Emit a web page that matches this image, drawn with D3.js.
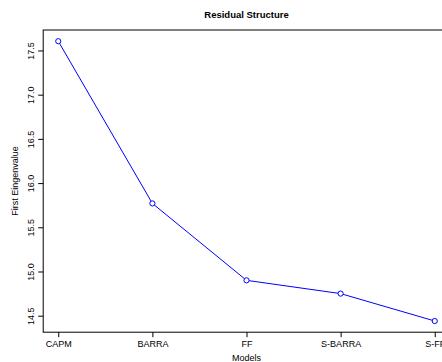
<!DOCTYPE html>
<html>
<head>
<meta charset="utf-8">
<script src="https://cdn.jsdelivr.net/npm/d3@7"></script>
<style>
  html, body { margin: 0; padding: 0; background: #fff; }
  svg { display: block; font-family: "Liberation Sans", Arial, Helvetica, sans-serif; }
</style>
</head>
<body>
<svg id="chart" width="442" height="362"></svg>
<script>
const models = ["CAPM", "BARRA", "FF", "S-BARRA", "S-FF"];
const eigenvalues = [17.605, 15.77, 14.90, 14.75, 14.44];
const yTicks = [14.5, 15.0, 15.5, 16.0, 16.5, 17.0, 17.5];
const chartTitle = "Residual Structure";
const xTitle = "Models";
const yTitle = "First Eingenvalue";

(function () {
const svg = d3.select("#chart");
const pLeft = 43.2, pRight = 449.8, pTop = 30, pBottom = 332.2;

const idx = models.map((d, i) => i + 1);
const xPad = 0.04 * (5 - 1);
const x = d3.scaleLinear().domain([1 - xPad, 5 + xPad]).range([pLeft, pRight]);
const yMin = d3.min(eigenvalues), yMax = d3.max(eigenvalues);
const yPad = 0.04 * (yMax - yMin);
const y = d3.scaleLinear().domain([yMin - yPad, yMax + yPad]).range([pBottom, pTop]);

// box
svg.append("rect")
  .attr("x", pLeft).attr("y", pTop)
  .attr("width", pRight - pLeft).attr("height", pBottom - pTop)
  .attr("fill", "none").attr("stroke", "#000").attr("stroke-width", 1);

// x axis
const xAxis = d3.axisBottom(x).tickValues(idx).tickFormat((d) => models[d - 1]).tickSize(5).tickPadding(3);
const gx = svg.append("g").attr("transform", `translate(0,${pBottom})`).call(xAxis);
gx.select(".domain").remove();
gx.selectAll("text").attr("font-size", 9).attr("font-family", "Liberation Sans, Arial, sans-serif").attr("fill", "#000");

// y axis
const yAxis = d3.axisLeft(y).tickValues(yTicks).tickFormat(d3.format(".1f")).tickSize(5);
const gy = svg.append("g").attr("transform", `translate(${pLeft},0)`).call(yAxis);
gy.select(".domain").remove();
gy.selectAll("text")
  .attr("font-size", 9).attr("font-family", "Liberation Sans, Arial, sans-serif").attr("fill", "#000")
  .attr("x", null).attr("dy", null)
  .attr("text-anchor", "middle")
  .attr("transform", "translate(-9,0) rotate(-90)");

// line
const pts = eigenvalues.map((v, i) => [x(idx[i]), y(v)]);
svg.append("path")
  .attr("d", d3.line()(pts))
  .attr("fill", "none").attr("stroke", "#0000ff").attr("stroke-width", 1);
svg.selectAll("circle.pt").data(eigenvalues).enter().append("circle")
  .attr("class", "pt")
  .attr("cx", (d, i) => x(idx[i])).attr("cy", (d) => y(d))
  .attr("r", 2.6).attr("fill", "#fff").attr("stroke", "#0000ff").attr("stroke-width", 1);

// titles
svg.append("text").attr("x", (pLeft + pRight) / 2).attr("y", 18)
  .attr("text-anchor", "middle").attr("font-size", 9.5).attr("font-weight", "bold").text(chartTitle);
svg.append("text").attr("x", (pLeft + pRight) / 2).attr("y", 361)
  .attr("text-anchor", "middle").attr("font-size", 9).text(xTitle);
svg.append("text").attr("transform", `translate(18,${(pTop + pBottom) / 2}) rotate(-90)`)
  .attr("text-anchor", "middle").attr("font-size", 9).text(yTitle);
})();
</script>
</body>
</html>
